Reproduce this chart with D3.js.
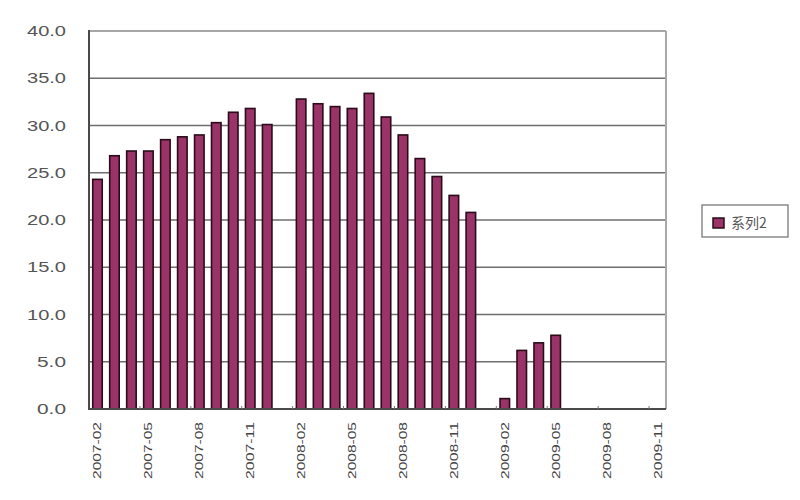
<!DOCTYPE html>
<html><head><meta charset="utf-8">
<script src="https://cdn.jsdelivr.net/npm/d3@7"></script>
<style>body{margin:0;background:#fff}svg{display:block}</style>
</head><body>
<svg id="c" width="800" height="500"></svg>
<script>
const months = ["2007-02","2007-03","2007-04","2007-05","2007-06","2007-07","2007-08","2007-09","2007-10","2007-11","2007-12",
"2008-01","2008-02","2008-03","2008-04","2008-05","2008-06","2008-07","2008-08","2008-09","2008-10","2008-11","2008-12",
"2009-01","2009-02","2009-03","2009-04","2009-05","2009-06","2009-07","2009-08","2009-09","2009-10","2009-11"];
const values = [24.3,26.8,27.3,27.3,28.5,28.8,29.0,30.3,31.4,31.8,30.1,
null,32.8,32.3,32.0,31.8,33.4,30.9,29.0,26.5,24.6,22.6,20.8,
null,1.1,6.2,7.0,7.8,null,null,null,null,null,null];
const yTicks = [0,5,10,15,20,25,30,35,40];
const xTickLabels = ["2007-02","2007-05","2007-08","2007-11","2008-02","2008-05","2008-08","2008-11","2009-02","2009-05","2009-08","2009-11"];
const seriesName = "系列2";

const svg = d3.select("#c");
const L = 89, R = 666, T = 31, B = 409;
const x = d3.scaleBand().domain(months).range([L, R]).padding(0);
const y = d3.scaleLinear().domain([0, 40]).range([B, T]);

// gridlines
svg.append("g").selectAll("line").data(yTicks.filter(d => d > 0)).join("line")
  .attr("x1", L).attr("x2", R).attr("y1", d => y(d)).attr("y2", d => y(d))
  .attr("stroke", d => d === 40 ? "#8a8a8a" : "#6e6e6e").attr("stroke-width", 1.6);
// right border
svg.append("line").attr("x1", R).attr("x2", R).attr("y1", T).attr("y2", B)
  .attr("stroke", "#a8a8a8").attr("stroke-width", 2);

// y labels
svg.append("g").selectAll("text").data(yTicks).join("text")
  .attr("x", 66).attr("y", d => y(d)).attr("dy", "0.36em")
  .attr("text-anchor", "end")
  .attr("font-family", "Liberation Sans, Arial, sans-serif").attr("font-size", 14)
  .attr("fill", "#555")
  .attr("textLength", d => d < 10 ? 29 : 39).attr("lengthAdjust", "spacingAndGlyphs")
  .text(d => d.toFixed(1));

// bars
const bw = x.step() * 0.56;
svg.append("g").selectAll("rect").data(months.map((m, i) => ({m, v: values[i]})).filter(d => d.v != null)).join("rect")
  .attr("x", d => x(d.m) + (x.step() - bw) / 2)
  .attr("width", bw)
  .attr("y", d => y(d.v))
  .attr("height", d => y(0) - y(d.v))
  .attr("fill", "#9a3468").attr("stroke", "#2b0b1a").attr("stroke-width", 1.6);

// axes lines
svg.append("line").attr("x1", L).attr("x2", L).attr("y1", T - 1).attr("y2", B + 1)
  .attr("stroke", "#4a4a4a").attr("stroke-width", 2);
svg.append("line").attr("x1", L).attr("x2", R).attr("y1", B).attr("y2", B)
  .attr("stroke", "#4a4a4a").attr("stroke-width", 2);

// tick marks every 3 categories
const tickIdx = d3.range(3, months.length, 3);
svg.append("g").selectAll("line").data(tickIdx).join("line")
  .attr("x1", i => x(months[i])).attr("x2", i => x(months[i]))
  .attr("y1", B - 3).attr("y2", B).attr("stroke", "#777").attr("stroke-width", 1);

// x labels
svg.append("g").selectAll("text").data(xTickLabels).join("text")
  .attr("transform", d => `translate(${x(d) + x.step() / 2 + 4},${B + 13}) rotate(-90)`)
  .attr("text-anchor", "end")
  .attr("font-family", "Liberation Sans, Arial, sans-serif").attr("font-size", 11)
  .attr("fill", "#444")
  .attr("textLength", 57).attr("lengthAdjust", "spacingAndGlyphs")
  .text(d => d);

// legend
const lg = svg.append("g");
lg.append("rect").attr("x", 702).attr("y", 205).attr("width", 86).attr("height", 32)
  .attr("fill", "#fff").attr("stroke", "#8a8a8a").attr("stroke-width", 1.5);
lg.append("rect").attr("x", 713).attr("y", 218).attr("width", 11).attr("height", 10)
  .attr("fill", "#9a3468").attr("stroke", "#2b0b1a").attr("stroke-width", 1.5);
lg.append("text").attr("x", 731).attr("y", 223).attr("dy", "0.36em")
  .attr("font-family", "Noto Sans CJK SC, sans-serif").attr("font-size", 14)
  .attr("fill", "#555").text(seriesName);
</script>
</body></html>
